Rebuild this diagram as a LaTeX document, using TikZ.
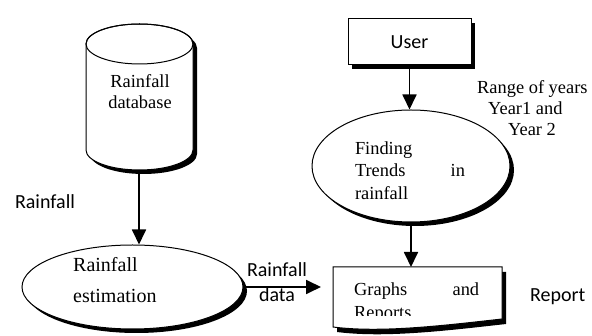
\documentclass[tikz,border=0pt]{standalone}
\usepackage{fontspec}
\setmainfont{Liberation Serif}
\setsansfont{Carlito}
\usetikzlibrary{arrows.meta,shadows,shapes.geometric}
\begin{document}
\begin{tikzpicture}[x=1pt,y=-1pt,
  conn/.style={line width=1.8pt,-{Triangle[width=14pt,length=15pt]}},
  outl/.style={line width=1pt,draw=black,fill=white},
  shad/.style={drop shadow={shadow xshift=4pt,shadow yshift=-4pt,fill=black,opacity=1}},
  ser/.style={font=\fontsize{18.4}{21}\selectfont,inner sep=0pt},
  sanslbl/.style={font=\sffamily\fontsize{20}{24}\selectfont,inner sep=0pt}]
\useasboundingbox (0,0) rectangle (592,336);

% cylinder (database)
\fill[black,shift={(4,4)}] (86,44) -- (86,150) arc[start angle=180,end angle=0,x radius=53.5,y radius=20]
   -- (193,44) arc[start angle=0,end angle=-180,x radius=53.5,y radius=20] -- cycle;
\draw[outl] (86,44) -- (86,150) arc[start angle=180,end angle=0,x radius=53.5,y radius=20]
   -- (193,44) arc[start angle=0,end angle=-180,x radius=53.5,y radius=20] -- cycle;
\draw[line width=1pt] (139.5,44) ellipse[x radius=53.5,y radius=20];
\node[ser,align=center] (dbtext) at (140,92) {Rainfall\\database};
\coordinate (dbbot) at (139,170);

% ellipses and user box
\node[ellipse,outl,shad,minimum width=221pt,minimum height=84pt,inner sep=0pt] (est) at (132.5,287) {};
\node[ellipse,outl,shad,minimum width=198pt,minimum height=112pt,inner sep=0pt] (find) at (411,166) {};
\node[rectangle,outl,shad,minimum width=123pt,minimum height=46pt,inner sep=0pt,sanslbl] (user) at (409.5,42) {User};

\node[inner sep=0pt,anchor=west,align=left,font=\fontsize{20}{31}\selectfont] (esttext) at (73,280.5) {Rainfall\\estimation};
\node[inner sep=0pt,font=\fontsize{18.4}{22.5}\selectfont] (findtext) at (410,170.5)
  {\parbox{110pt}{Finding\\Trends\hfill in\\rainfall}};

% report document shape
\fill[black,shift={(4,5)}] (333,267) -- (502,267) -- (502,319) .. controls (440,326) and (380,333) .. (333,327) -- cycle;
\draw[outl] (333,267) -- (502,267) -- (502,319) .. controls (440,326) and (380,333) .. (333,327) -- cycle;
\begin{scope}
  \clip (333,267) rectangle (502,316);
  \node[inner sep=0pt,anchor=north west,font=\fontsize{18.4}{23}\selectfont] (reptext) at (354,283)
    {\parbox[t]{125pt}{Graphs\hfill and\\Reports}};
\end{scope}
\coordinate (reptop) at (411,267);
\coordinate (dataend) at (321,290);

% connectors
\draw[conn] (dbbot) -- (dbbot |- est.north);
\draw[conn] (user.south) -- (user.south |- find.north);
\draw[conn] (find.south) -- (find.south |- reptop);
\draw[conn] (est.east) -- (est.east -| dataend);

% labels
\node[sanslbl] (lrain) at (45,202) {Rainfall};
\node[sanslbl,align=center,font=\sffamily\fontsize{20}{25}\selectfont] (ldata) at (277,282) {Rainfall\\data};
\node[inner sep=0pt,anchor=west,align=left,font=\fontsize{18.4}{21}\selectfont] (lrange) at (477,108)
  {Range of years\\\hspace*{11pt}Year1 and\\\hspace*{31pt}Year 2};
\node[sanslbl,anchor=west] (lreport) at (530,297) {Report};
\end{tikzpicture}
\end{document}
